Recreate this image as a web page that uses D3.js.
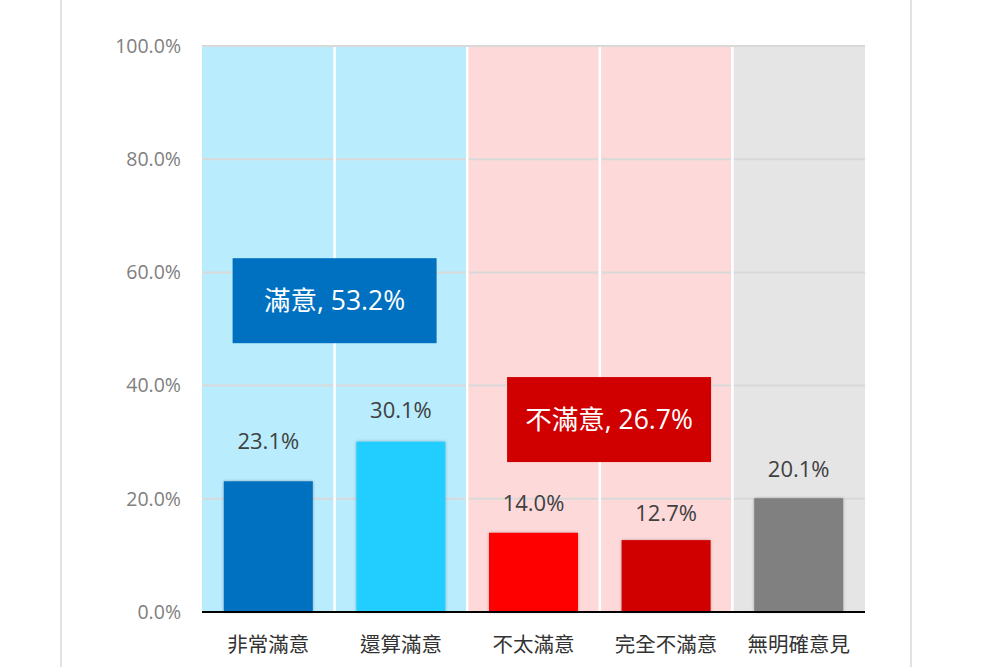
<!DOCTYPE html>
<html>
<head>
<meta charset="utf-8">
<script src="https://cdn.jsdelivr.net/npm/d3@7"></script>
<style>
  html, body { margin: 0; padding: 0; background: #fff; }
  svg { display: block; font-family: "Open Sans", "Noto Sans CJK TC", sans-serif; }
</style>
</head>
<body>
<svg id="chart" width="1000" height="667"></svg>
<script>
// categories and values (percent)
const categories = ["非常滿意", "還算滿意", "不太滿意", "完全不滿意", "無明確意見"];
const values = [23.1, 30.1, 14.0, 12.7, 20.1];
const barColors = ["#0070C0", "#22CEFF", "#FF0000", "#D00000", "#808080"];
const bandColors = ["#B9ECFD", "#B9ECFD", "#FDD9DA", "#FDD9DA", "#E5E5E5"];
const yTicks = [0, 20, 40, 60, 80, 100];

// group summaries: [label, center position in category units, centre value]
const groupLabels = ["滿意, 53.2%", "不滿意, 26.7%"];
const groupPos = [1.0, 3.07];
const groupVal = [55.0, 34.0];
const groupColors = ["#0070C0", "#D00000"];

// how far each value label sits above its bar (px), labels were placed by hand
const labelLift = [40, 31, 29, 27, 29];

const svg = d3.select("#chart");
const margin = { left: 202, right: 135, top: 46, bottom: 55 };
const width = 1000, height = 667;

// outer frame lines
svg.append("line").attr("x1", 61).attr("x2", 61).attr("y1", 0).attr("y2", height)
    .attr("stroke", "#D9D9D9").attr("stroke-width", 1.5);
svg.append("line").attr("x1", 911).attr("x2", 911).attr("y1", 0).attr("y2", height)
    .attr("stroke", "#D9D9D9").attr("stroke-width", 1.5);

const x = d3.scaleBand()
    .domain(categories)
    .range([margin.left, width - margin.right])
    .paddingInner(0)
    .paddingOuter(0);

const y = d3.scaleLinear()
    .domain([0, 100])
    .range([height - margin.bottom, margin.top]);

// category background bands
svg.append("g").selectAll("rect")
    .data(categories)
    .join("rect")
    .attr("x", d => x(d))
    .attr("y", y(100))
    .attr("width", x.bandwidth())
    .attr("height", y(0) - y(100))
    .attr("fill", (d, i) => bandColors[i]);

// gridlines
svg.append("g").selectAll("line")
    .data(yTicks.filter(t => t > 0))
    .join("line")
    .attr("x1", margin.left)
    .attr("x2", width - margin.right)
    .attr("y1", d => y(d))
    .attr("y2", d => y(d))
    .attr("stroke", "#D9D9D9")
    .attr("stroke-width", 2);

// white separators between bands
svg.append("g").selectAll("line")
    .data(categories.slice(1))
    .join("line")
    .attr("x1", d => x(d))
    .attr("x2", d => x(d))
    .attr("y1", y(100) + 1)
    .attr("y2", y(0))
    .attr("stroke", "#fff")
    .attr("stroke-width", 2.5);

// y tick labels
svg.append("g").selectAll("text")
    .data(yTicks)
    .join("text")
    .attr("x", 181)
    .attr("y", d => y(d))
    .attr("dy", "0.35em")
    .attr("text-anchor", "end")
    .attr("font-size", 19.5)
    .attr("fill", "#808080")
    .text(d => d.toFixed(1) + "%");

// bar shadow filter
const defs = svg.append("defs");
const filt = defs.append("filter").attr("id", "shadow")
    .attr("x", "-20%").attr("y", "-20%").attr("width", "140%").attr("height", "140%");
filt.append("feDropShadow").attr("dx", 0).attr("dy", 0).attr("stdDeviation", 1.5)
    .attr("flood-color", "#000").attr("flood-opacity", 0.3);

const barW = 89;
svg.append("g").selectAll("rect")
    .data(values)
    .join("rect")
    .attr("x", (d, i) => x(categories[i]) + (x.bandwidth() - barW) / 2)
    .attr("y", d => y(d))
    .attr("width", barW)
    .attr("height", d => y(0) - y(d))
    .attr("fill", (d, i) => barColors[i])
    .attr("filter", "url(#shadow)");

// value labels
svg.append("g").selectAll("text")
    .data(values)
    .join("text")
    .attr("x", (d, i) => x(categories[i]) + x.bandwidth() / 2)
    .attr("y", (d, i) => y(d) - labelLift[i])
    .attr("dy", "0.35em")
    .attr("text-anchor", "middle")
    .attr("font-size", 22)
    .attr("fill", "#404040")
    .text(d => d.toFixed(1) + "%");

// x axis baseline
svg.append("line")
    .attr("x1", margin.left).attr("x2", width - margin.right)
    .attr("y1", y(0)).attr("y2", y(0))
    .attr("stroke", "#000").attr("stroke-width", 2);

// category labels
svg.append("g").selectAll("text")
    .data(categories)
    .join("text")
    .attr("x", d => x(d) + x.bandwidth() / 2)
    .attr("y", y(0) + 33)
    .attr("dy", "0.35em")
    .attr("text-anchor", "middle")
    .attr("font-size", 20.5)
    .attr("fill", "#333")
    .text(d => d);

// group summary boxes
const boxW = 204, boxH = 85;
const posX = p => margin.left + p * x.bandwidth();
const groups = svg.append("g").selectAll("g")
    .data(groupLabels)
    .join("g");
groups.append("rect")
    .attr("x", (d, i) => posX(groupPos[i]) - boxW / 2)
    .attr("y", (d, i) => y(groupVal[i]) - boxH / 2)
    .attr("width", boxW)
    .attr("height", boxH)
    .attr("fill", (d, i) => groupColors[i]);
groups.append("text")
    .attr("x", (d, i) => posX(groupPos[i]))
    .attr("y", (d, i) => y(groupVal[i]))
    .attr("dy", "0.35em")
    .attr("text-anchor", "middle")
    .attr("font-size", 26.5)
    .attr("fill", "#fff")
    .text(d => d);
</script>
</body>
</html>
